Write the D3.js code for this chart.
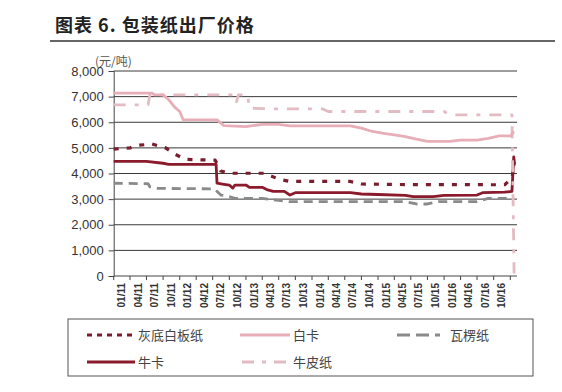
<!DOCTYPE html>
<html><head><meta charset="utf-8">
<script src="https://cdn.jsdelivr.net/npm/d3@7"></script>
<style>
html,body{margin:0;padding:0;background:#fff;}
svg{display:block;}
</style></head>
<body>
<svg id="chart" width="562" height="392"></svg>
<script>
// ---------- DATA ----------
const title = "图表 6. 包装纸出厂价格";
const unitLabel = "(元/吨)";
const yTicks = [0,1000,2000,3000,4000,5000,6000,7000,8000];
const xTickLabels = ["01/11","04/11","07/11","10/11","01/12","04/12","07/12","10/12",
  "01/13","04/13","07/13","10/13","01/14","04/14","07/14","10/14",
  "01/15","04/15","07/15","10/15","01/16","04/16","07/16","10/16"];
const seriesNames = ["灰底白板纸","白卡","瓦楞纸","牛卡","牛皮纸"];

const huidiDates = ["2011-01-01","2011-04-01","2011-05-15","2011-08-01","2011-10-15","2011-12-01","2012-02-01","2012-07-15","2012-08-15","2012-10-01","2013-04-15","2013-07-01","2013-09-01","2014-08-01","2014-10-01","2015-05-01","2016-12-01","2017-01-12","2017-01-18","2017-01-22"];
const huidiValues = [4950,5000,5100,5150,5000,4770,4550,4520,4100,4010,4010,3780,3690,3690,3590,3570,3560,3850,4450,4300];

const baikaDates = ["2011-01-01","2011-08-01","2011-08-15","2011-10-01","2011-11-01","2011-12-01","2012-01-01","2012-01-20","2012-07-25","2012-09-01","2013-01-01","2013-04-01","2013-07-01","2013-09-01","2014-08-01","2014-10-01","2014-12-01","2015-02-01","2015-04-01","2015-06-01","2015-08-01","2015-10-01","2016-02-01","2016-04-01","2016-07-01","2016-09-01","2016-11-01","2017-01-05","2017-01-20"];
const baikaValues = [7140,7140,7070,7070,6880,6610,6420,6100,6090,5870,5830,5920,5920,5860,5860,5770,5640,5570,5510,5440,5340,5250,5250,5300,5300,5370,5470,5470,5650];

const walengDates = ["2011-01-01","2011-07-10","2011-07-20","2011-09-01","2012-07-10","2012-08-15","2012-10-01","2012-11-01","2013-04-01","2013-06-01","2013-09-01","2015-06-01","2015-08-01","2015-10-01","2015-12-01","2016-07-01","2016-08-01","2016-09-01","2017-01-15"];
const walengValues = [3620,3600,3480,3420,3400,3160,3100,3030,3030,2970,2900,2900,2810,2810,2900,2900,2970,3030,3030];

const niukaDates = ["2011-01-01","2011-07-01","2011-10-01","2011-11-01","2012-07-20","2012-07-25","2012-09-01","2012-10-01","2012-10-20","2012-11-01","2013-01-01","2013-01-20","2013-04-01","2013-05-01","2013-06-01","2013-08-01","2013-09-01","2013-10-01","2014-08-01","2014-10-01","2015-01-01","2015-06-01","2015-07-15","2015-11-01","2016-01-01","2016-07-01","2016-08-01","2016-12-01","2017-01-10","2017-01-20","2017-01-25"];
const niukaValues = [4470,4470,4400,4360,4360,3620,3580,3550,3430,3550,3550,3460,3460,3360,3300,3300,3160,3250,3250,3200,3180,3150,3100,3100,3150,3160,3250,3270,3300,4650,4350];

const niupiDates = ["2011-01-01","2011-07-10","2011-07-20","2012-11-01","2012-11-10","2012-11-20","2013-01-10","2013-01-20","2013-06-01","2014-03-01","2014-04-01","2016-01-01","2016-02-01","2017-01-10","2017-01-22"];
const niupiValues = [6680,6680,7070,7070,6800,7070,7070,6550,6520,6520,6420,6420,6290,6290,100];

// ---------- CHART ----------
const parse = d3.timeParse("%Y-%m-%d");
const svg = d3.select("#chart");
const fontCJK = "'Noto Sans CJK SC','Noto Sans',sans-serif";
const fontNum = "'Liberation Sans',Arial,sans-serif";

const x = d3.scaleTime().domain([new Date(2011,0,1), new Date(2017,1,7)]).range([113.7, 517]);
const y = d3.scaleLinear().domain([0,8000]).range([276, 71]);

// title
svg.append("text").attr("x",55).attr("y",32).text(title)
  .attr("font-family",fontCJK).attr("font-weight","bold").attr("font-size",18)
  .attr("letter-spacing",1).attr("fill","#222");
svg.append("line").attr("x1",50).attr("x2",555).attr("y1",41).attr("y2",41)
  .attr("stroke","#333").attr("stroke-width",1.5);

// gridlines
svg.append("g").selectAll("line").data(yTicks.filter(d=>d>0)).join("line")
  .attr("x1",x.range()[0]).attr("x2",x.range()[1])
  .attr("y1",d=>y(d)).attr("y2",d=>y(d))
  .attr("stroke","#3a3a3a").attr("stroke-width",1);

// y axis
const yAxis = d3.axisLeft(y).tickValues(yTicks).tickFormat(d3.format(",")).tickSize(5).tickPadding(5);
const gy = svg.append("g").attr("transform",`translate(${x.range()[0]},0)`).call(yAxis);
gy.select(".domain").attr("stroke","#444");
gy.selectAll(".tick line").attr("stroke","#444");
gy.selectAll("text").attr("font-family",fontNum).attr("font-size",13).attr("fill","#333");

svg.append("text").attr("x",95).attr("y",66).text(unitLabel)
  .attr("font-family",fontCJK).attr("font-size",12).attr("fill","#555");

// x axis
const quarterParse = d3.timeParse("%m/%y");
const qStarts = xTickLabels.map(quarterParse);
const tickDates = qStarts.concat([d3.timeMonth.offset(qStarts[qStarts.length-1],3)]);
const gx = svg.append("g").attr("transform",`translate(0,${y(0)})`);
gx.append("line").attr("x1",x.range()[0]).attr("x2",x.range()[1]).attr("stroke","#444");
gx.selectAll("line.tk").data(tickDates).join("line").attr("class","tk")
  .attr("x1",d=>x(d)).attr("x2",d=>x(d)).attr("y1",0).attr("y2",4).attr("stroke","#444");
gx.selectAll("text").data(xTickLabels).join("text")
  .attr("transform",(d,i)=>{const m=d3.timeDay.offset(qStarts[i],45);return `translate(${x(m)},7) rotate(-90)`;})
  .attr("text-anchor","end").attr("dy","0.35em")
  .attr("font-family",fontNum).attr("font-size",10).attr("font-weight","bold").attr("fill","#333").text(d=>d);

// series
const styles = {
  "灰底白板纸":{color:"#7a1d2e",dash:"5,8",width:3.2},
  "白卡":{color:"#e8aeb7",dash:null,width:2.8},
  "瓦楞纸":{color:"#8a8a8a",dash:"9,6",width:2.8},
  "牛卡":{color:"#8a1a2c",dash:null,width:2.8},
  "牛皮纸":{color:"#e2bcc2",dash:"12,9,4,9",width:2.8}
};
const seriesData = {
  "灰底白板纸":[huidiDates,huidiValues],
  "白卡":[baikaDates,baikaValues],
  "瓦楞纸":[walengDates,walengValues],
  "牛卡":[niukaDates,niukaValues],
  "牛皮纸":[niupiDates,niupiValues]
};
const line = d3.line().x(d=>x(d[0])).y(d=>y(d[1]));
const drawOrder = ["瓦楞纸","牛卡","灰底白板纸","牛皮纸","白卡"];
drawOrder.forEach(name=>{
  const [ds,vs]=seriesData[name];
  const pts = ds.map((d,i)=>[parse(d),vs[i]]);
  const s=styles[name];
  svg.append("path").datum(pts).attr("d",line).attr("fill","none")
    .attr("stroke",s.color).attr("stroke-width",s.width)
    .attr("stroke-dasharray",s.dash).attr("stroke-linejoin","round");
});

// legend
svg.append("rect").attr("x",68).attr("y",319).attr("width",465).attr("height",57)
  .attr("fill","#fff").attr("stroke","#555").attr("stroke-width",1);
const legendPos = {
  "灰底白板纸":[87,135,335,"5,5"],
  "白卡":[240,290,335,null],
  "瓦楞纸":[397,440,335,"13,6"],
  "牛卡":[87,135,362,null],
  "牛皮纸":[242,290,362,"12,8,4,8"]
};
seriesNames.forEach(name=>{
  const [x1,x2,ly,dash]=legendPos[name];
  const s=styles[name];
  svg.append("line").attr("x1",x1).attr("x2",x2).attr("y1",ly).attr("y2",ly)
    .attr("stroke",s.color).attr("stroke-width",s.width).attr("stroke-dasharray",dash);
  svg.append("text").attr("x",x2+(name==="瓦楞纸"?10:3)).attr("y",ly).attr("dy","0.35em")
    .attr("font-family",fontCJK).attr("font-size",13).attr("fill","#444").text(name);
});
</script>
</body></html>
